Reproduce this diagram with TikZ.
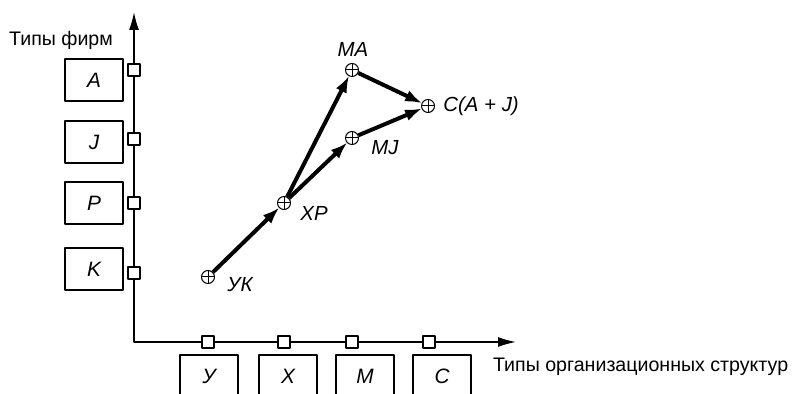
\documentclass[tikz,border=0pt]{standalone}
\usepackage{fontspec}
\setmainfont{Liberation Sans}
\usetikzlibrary{arrows.meta}

\begin{document}
\begin{tikzpicture}[x=0.5pt,y=0.5pt,line join=bevel,
  font=\fontsize{9.8}{11}\selectfont,
  typebox/.style={draw,line width=0.6pt,minimum width=29pt,minimum height=21pt,inner sep=0pt,font=\fontsize{10.4}{11}\selectfont\itshape},
  tick/.style={draw,fill=white,line width=0.6pt,minimum size=6pt,inner sep=0pt},
  point/.style={circle,draw,fill=white,line width=0.5pt,minimum size=6.5pt,inner sep=0pt,
    path picture={\draw[line width=0.5pt] (path picture bounding box.north) -- (path picture bounding box.south)
      (path picture bounding box.west) -- (path picture bounding box.east);}},
  ptlabel/.style={font=\fontsize{10.2}{11}\selectfont\itshape,inner sep=0pt},
  link/.style={-{Latex[length=8.5pt,width=6pt]},line width=2pt,shorten >=-0.3pt},
  axis/.style={{Latex[length=9pt,width=5pt]}-{Latex[length=9pt,width=5pt]},line width=0.75pt}]
%%
  \useasboundingbox (0,0) rectangle (795,-394);
  \clip (0,0) rectangle (795,-394);

  % axes
  \coordinate (ytip) at (134,-12);
  \coordinate (origin) at (134,-342);
  \coordinate (xtip) at (516,-342);
  \draw [axis] (ytip) -- (origin) -- (xtip);

  \node (firms) at (61,-40) {Типы фирм};
  \node (structs) at (486,-367) [anchor=west] {Типы организационных структур};

  % firm types
  \node (boxA) at (94,-80) [typebox] {A};
  \node (boxJ) at (94,-142) [typebox] {J};
  \node (boxP) at (94,-203) [typebox] {P};
  \node (boxK) at (94,-269) [typebox] {K};
  \node (tickA) at (134,-70) [tick] {};
  \node (tickJ) at (134,-139) [tick] {};
  \node (tickP) at (134,-203) [tick] {};
  \node (tickK) at (134,-273) [tick] {};

  % structure types
  \node (boxY) at (209,-376) [typebox] {У};
  \node (boxX) at (288,-376) [typebox] {X};
  \node (boxM) at (365,-376) [typebox] {M};
  \node (boxC) at (442,-376) [typebox] {C};
  \node (tickY) at (208,-342) [tick] {};
  \node (tickX) at (284,-342) [tick] {};
  \node (tickM) at (352,-342) [tick] {};
  \node (tickC) at (429,-342) [tick] {};

  % firms in the plane
  \node (yk) at (208,-277) [point] {};
  \node (xp) at (284,-203) [point] {};
  \node (ma) at (352,-70) [point] {};
  \node (mj) at (352,-138) [point] {};
  \node (c) at (428,-106) [point] {};

  \node (ykLabel) at (240,-285) [ptlabel] {УК};
  \node (xpLabel) at (314,-213) [ptlabel] {XP};
  \node (maLabel) at (353,-49) [ptlabel] {MA};
  \node (mjLabel) at (385,-148) [ptlabel] {MJ};
  \node (cLabel) at (443,-106) [ptlabel,anchor=west] {C(A + J)};

  \draw [link] (yk) -- (xp);
  \draw [link] (xp) -- (ma);
  \draw [link] (xp) -- (mj);
  \draw [link] (ma) -- (c);
  \draw [link] (mj) -- (c);

\end{tikzpicture}
\end{document}
